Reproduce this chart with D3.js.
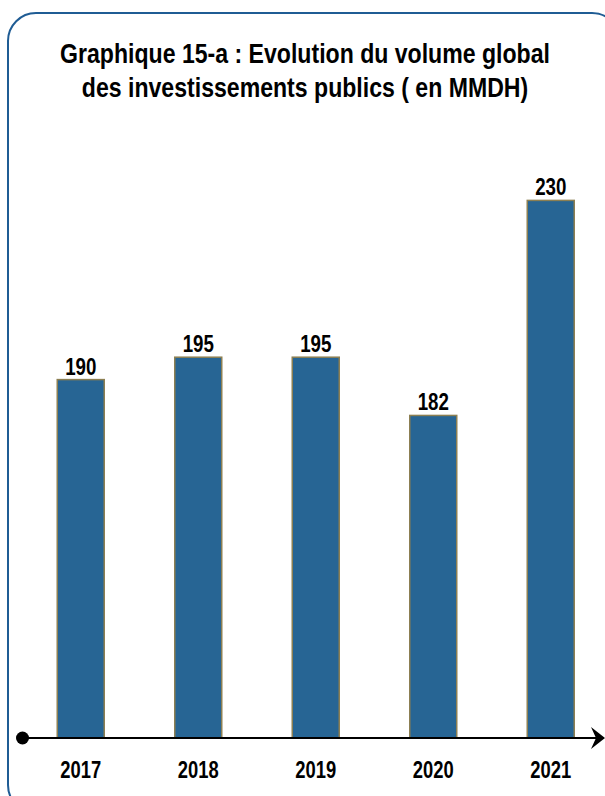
<!DOCTYPE html>
<html><head><meta charset="utf-8">
<script src="https://cdn.jsdelivr.net/npm/d3@7/dist/d3.min.js"></script>
<style>body{margin:0;background:#fff}svg{display:block}</style>
</head><body><svg id="c" width="605" height="796"></svg>
<script>
const years = ["2017","2018","2019","2020","2021"];
const values = [190, 195, 195, 182, 230];
const titleLines = ["Graphique 15-a : Evolution du volume global","des investissements publics ( en MMDH)"];

const svg = d3.select("#c");
const font = "'Liberation Sans',Arial,sans-serif";
const sx = 0.84;

svg.append("rect").attr("x",8).attr("y",13).attr("width",612).attr("height",800)
  .attr("rx",28).attr("fill","#fff").attr("stroke","#1f5c94").attr("stroke-width",2);

svg.append("g").selectAll("text").data(titleLines).join("text")
  .attr("transform",(d,i)=>`translate(305,${63+i*34}) scale(${sx},1)`).attr("text-anchor","middle")
  .style("font-family",font).style("font-weight","bold").style("font-size","27.5px").attr("fill","#000")
  .text(d=>d);

const baseY = 738;
const x = d3.scaleBand().domain(years).range([22,609.5]).paddingInner(0.6).paddingOuter(0.3);
const y = d3.scaleLinear().domain([110,240]).range([baseY, baseY-130*4.48]);

svg.append("g").selectAll("rect").data(values).join("rect")
  .attr("x",(d,i)=>x(years[i])).attr("y",d=>y(d))
  .attr("width",x.bandwidth()).attr("height",d=>baseY-y(d))
  .attr("fill","#276594").attr("stroke","#8c7f52").attr("stroke-width",1.5);

svg.append("g").selectAll("text").data(values).join("text")
  .attr("transform",(d,i)=>`translate(${x(years[i])+x.bandwidth()/2},${y(d)-5}) scale(0.78,1)`)
  .attr("text-anchor","middle").style("font-family",font).style("font-weight","bold")
  .style("font-size","24px").text(d=>d);

// axis
const axis = svg.append("g").attr("transform",`translate(0,${baseY})`)
  .call(d3.axisBottom(x).tickSize(0).tickPadding(0));
axis.select(".domain").remove();
axis.selectAll("text").attr("y",null).attr("dy",null)
  .attr("transform","translate(0,40) scale(0.8,1)")
  .style("font-family",font).style("font-weight","bold").style("font-size","23px").attr("fill","#000");

svg.append("line").attr("x1",22).attr("x2",598).attr("y1",baseY).attr("y2",baseY)
  .attr("stroke","#000").attr("stroke-width",2);
svg.append("circle").attr("cx",22.5).attr("cy",baseY).attr("r",6.5).attr("fill","#000");
svg.append("path").attr("d",`M591,${baseY-11} L605,${baseY} L591,${baseY+11} L596,${baseY} Z`).attr("fill","#000");
</script></body></html>
